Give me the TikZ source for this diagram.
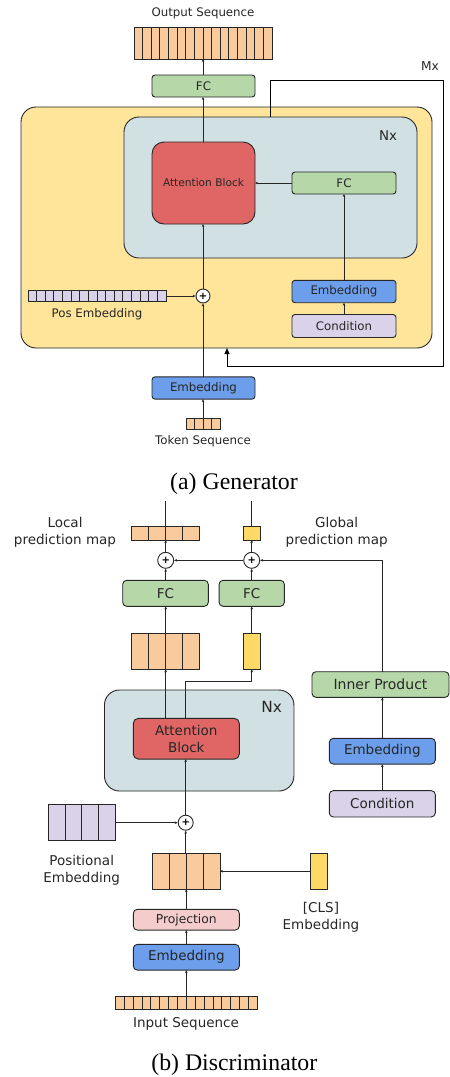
\documentclass[tikz,border=0pt]{standalone}
\usepackage{fontspec}
\setmainfont{DejaVu Sans}
\newfontfamily\capfont{Liberation Serif}
\usetikzlibrary{calc,arrows.meta}
\definecolor{seqorange}{HTML}{F9CB9C}
\definecolor{fcgreen}{HTML}{B6D7A8}
\definecolor{embblue}{HTML}{6D9EEB}
\definecolor{condlav}{HTML}{D9D2E9}
\definecolor{attred}{HTML}{E06666}
\definecolor{outeryellow}{HTML}{FFE599}
\definecolor{nxgray}{HTML}{D0E0E3}
\definecolor{clsyellow}{HTML}{FFD966}
\definecolor{projpink}{HTML}{F4CCCC}
\definecolor{inkgray}{HTML}{262626}
\newcommand{\gsz}{\fontsize{11.8}{14}\selectfont}
\newcommand{\dsz}{\fontsize{13.5}{17}\selectfont}
\newcommand{\splitbar}[2]{%
  \pgfmathtruncatemacro\lastk{#2-1}%
  \foreach \k in {1,...,\lastk}
    \draw[cellline] ($(#1.south west)!{\k/#2}!(#1.south east)$) -- ($(#1.north west)!{\k/#2}!(#1.north east)$);}

\begin{document}
\begin{tikzpicture}[x=1pt,y=-1pt,
    box/.style={draw=inkgray, line width=0.9pt, rounded corners=3pt, inner sep=0pt, outer sep=0pt, text=inkgray},
    bar/.style={draw=inkgray, line width=0.9pt, inner sep=0pt, outer sep=0pt},
    cellline/.style={draw=inkgray, line width=0.8pt},
    plus/.style={circle, draw=inkgray, fill=white, line width=0.9pt, inner sep=0pt, font=\bfseries\fontsize{10}{10}\selectfont},
    lbl/.style={text=inkgray, align=center, inner sep=0pt},
    arr/.style={draw=inkgray, line width=0.8pt, -{Stealth[length=3pt,width=2.6pt]}},
    loop/.style={draw=black, line width=0.9pt, -{Triangle[length=6pt,width=5pt]}}]
  \useasboundingbox (0,0) rectangle (450,1077);

  % (a) generator
  \node (outerA) at (226.5,227.5) [box, fill=outeryellow, rounded corners=15pt, minimum width=411pt, minimum height=241pt] {};
  \node (nxA) at (270.5,187.5) [box, fill=nxgray, rounded corners=15pt, minimum width=293pt, minimum height=141pt] {};
  \node (nxAlbl) at (388,136) [lbl, font=\fontsize{13.4}{14}\selectfont] {Nx};

  \node (outSeq) at (203,43) [bar, fill=seqorange, minimum width=138pt, minimum height=32pt] {};
  \splitbar{outSeq}{16}
  \node (outLbl) at (203,13) [lbl, font=\gsz] {Output Sequence};

  \node (fcA) at (203.5,86) [box, fill=fcgreen, minimum width=103pt, minimum height=22pt, font=\gsz] {FC};
  \node (attA) at (203.5,183) [box, fill=attred, rounded corners=12pt, minimum width=103pt, minimum height=82pt, font=\fontsize{10.6}{12}\selectfont] {Attention Block};
  \node (fcB) at (344,183) [box, fill=fcgreen, minimum width=104pt, minimum height=22pt, font=\gsz] {FC};
  \node (embA) at (344,291.5) [box, fill=embblue, minimum width=104pt, minimum height=22.4pt, font=\gsz] {Embedding};
  \node (condA) at (344,326) [box, fill=condlav, minimum width=104pt, minimum height=23pt, font=\gsz] {Condition};

  \node (posA) at (97,296) [bar, fill=condlav, minimum width=138pt, minimum height=11.4pt] {};
  \splitbar{posA}{16}
  \node (posAlbl) at (97,314) [lbl, font=\gsz] {Pos Embedding};
  \node (plusA) at (203,296) [plus, minimum size=14pt] {+};

  \node (embIn) at (203.5,388) [box, fill=embblue, minimum width=103pt, minimum height=22.3pt, font=\gsz] {Embedding};
  \node (tokA) at (203,424) [bar, fill=seqorange, minimum width=34pt, minimum height=11.4pt] {};
  \splitbar{tokA}{4}
  \node (tokLbl) at (203,441) [lbl, font=\gsz] {Token Sequence};
  \node (mxLbl) at (430,66) [lbl, font=\fontsize{12.2}{14}\selectfont] {Mx};
  \node (capA) at (234,484) [lbl, text=black, font=\capfont\fontsize{23.8}{26}\selectfont] {(a) Generator};

  \draw[arr] (tokA.north) -- (tokA.north |- embIn.south);
  \draw[arr] (embIn.north -| plusA) -- (plusA.south);
  \draw[arr] (plusA.north) -- (plusA.north |- attA.south);
  \draw[arr] (attA.north -| plusA) -- (plusA |- fcA.south);
  \draw[arr] (fcA.north -| plusA) -- (plusA |- outSeq.south);
  \draw[arr] (posA.east) -- (plusA.west);
  \draw[arr] (condA.north) -- (embA.south);
  \draw[arr] (embA.north) -- (fcB.south);
  \draw[arr] (fcB.west) -- (attA.east);
  \coordinate (mxTop) at (443,80);
  \coordinate (mxBot) at (443,366);
  \draw[loop] (nxA.north -| 270,0) |- (mxTop) -- (mxBot) -| (outerA.south -| 227,0);

  % (b) discriminator
  \node (nxB) at (199.2,740.5) [box, fill=nxgray, rounded corners=15pt, minimum width=189.5pt, minimum height=101pt] {};
  \node (nxBlbl) at (271.7,707.3) [lbl, font=\fontsize{15.4}{16}\selectfont] {Nx};
  \node (attB) at (186.3,738.7) [box, fill=attred, rounded corners=5pt, minimum width=106pt, minimum height=40.7pt, align=center, font=\dsz] {Attention\\Block};

  \node (locOut) at (165.5,533.3) [bar, fill=seqorange, minimum width=67.6pt, minimum height=13.3pt] {};
  \splitbar{locOut}{4}
  \node (gloOut) at (251.8,533.3) [bar, fill=clsyellow, minimum width=17pt, minimum height=13.3pt] {};
  \node (locLbl) at (65,532.5) [lbl, font=\dsz] {Local\\prediction map};
  \node (gloLbl) at (336.7,532.5) [lbl, font=\dsz] {Global\\prediction map};
  \coordinate (locEnd) at (165.7,501);
  \coordinate (gloEnd) at (251.7,501);

  \node (plusB) at (165.7,560.3) [plus, minimum size=16pt] {+};
  \node (plusG) at (251.7,560.3) [plus, minimum size=16pt] {+};
  \node (fcL) at (165.5,593.3) [box, fill=fcgreen, rounded corners=4pt, minimum width=85.6pt, minimum height=26pt, font=\dsz] {FC};
  \node (fcG) at (251.7,593.3) [box, fill=fcgreen, rounded corners=4pt, minimum width=65.3pt, minimum height=26pt, font=\dsz] {FC};
  \node (locFeat) at (165.5,651.3) [bar, fill=seqorange, minimum width=67.6pt, minimum height=36pt] {};
  \splitbar{locFeat}{4}
  \node (gloFeat) at (251.8,651.3) [bar, fill=clsyellow, minimum width=17pt, minimum height=36pt] {};

  \node (inner) at (380.5,684.5) [box, fill=fcgreen, rounded corners=4pt, minimum width=137pt, minimum height=25.6pt, font=\fontsize{14}{16}\selectfont] {Inner Product};
  \node (embC) at (382.3,751.2) [box, fill=embblue, rounded corners=4pt, minimum width=106pt, minimum height=25.7pt, font=\dsz] {Embedding};
  \node (condC) at (382.3,803.8) [box, fill=condlav, rounded corners=4pt, minimum width=106pt, minimum height=26.3pt, font=\dsz] {Condition};

  \node (plusC) at (185.7,822.7) [plus, minimum size=15pt] {+};
  \node (posB) at (81.7,822.5) [bar, fill=condlav, minimum width=66.7pt, minimum height=36.4pt] {};
  \splitbar{posB}{4}
  \node (posBlbl) at (81.7,870.7) [lbl, font=\dsz] {Positional\\Embedding};
  \node (inFeat) at (186.3,871.2) [bar, fill=seqorange, minimum width=67.3pt, minimum height=35.7pt] {};
  \splitbar{inFeat}{4}
  \node (cls) at (319.2,871.2) [bar, fill=clsyellow, minimum width=17pt, minimum height=35.7pt] {};
  \node (clsLbl) at (321,917.7) [lbl, font=\dsz] {[CLS]\\Embedding};

  \node (proj) at (186.3,919.7) [box, fill=projpink, rounded corners=4pt, minimum width=106pt, minimum height=20.7pt, font=\fontsize{12.3}{14}\selectfont] {Projection};
  \node (embD) at (186.3,957.2) [box, fill=embblue, rounded corners=4pt, minimum width=106pt, minimum height=25.7pt, font=\dsz] {Embedding};
  \node (inSeq) at (186.3,1003) [bar, fill=seqorange, minimum width=142pt, minimum height=12.6pt] {};
  \splitbar{inSeq}{16}
  \node (inLbl) at (186,1024.3) [lbl, font=\dsz] {Input Sequence};
  \node (capB) at (234.3,1064.3) [lbl, text=black, font=\capfont\fontsize{23.8}{26}\selectfont] {(b) Discriminator};

  \draw[arr] (inSeq.north) -- (embD.south);
  \draw[arr] (embD.north) -- (proj.south);
  \draw[arr] (proj.north) -- (inFeat.south);
  \draw[arr] (inFeat.north -| plusC) -- (plusC.south);
  \draw[arr] (plusC.north) -- (plusC |- attB.south);
  \draw[arr] (posB.east |- plusC) -- (plusC.west);
  \draw[arr] (cls.west) -- (inFeat.east);
  \draw[arr] (attB.north -| plusB) -- (plusB |- locFeat.south);
  \draw[arr] (attB.north -| plusC) |- (plusC |- 0,681) -| (gloFeat.south);
  \draw[arr] (locFeat.north -| plusB) -- (plusB |- fcL.south);
  \draw[arr] (gloFeat.north -| plusG) -- (plusG |- fcG.south);
  \draw[arr] (fcL.north -| plusB) -- (plusB.south);
  \draw[arr] (fcG.north -| plusG) -- (plusG.south);
  \draw[arr] (plusB.north) -- (plusB |- locOut.south);
  \draw[arr] (plusG.north) -- (plusG |- gloOut.south);
  \draw[cellline] (locOut.north -| plusB) -- (locEnd);
  \draw[cellline] (gloOut.north -| plusG) -- (gloEnd);
  \draw[arr] (condC.north) -- (embC.south);
  \draw[arr] (embC.north) -- (embC.north |- inner.south);
  \draw[arr] (embC.north |- inner.north) |- (plusG.east);
  \draw[arr] (plusG.west) -- (plusB.east);
\end{tikzpicture}
\end{document}
